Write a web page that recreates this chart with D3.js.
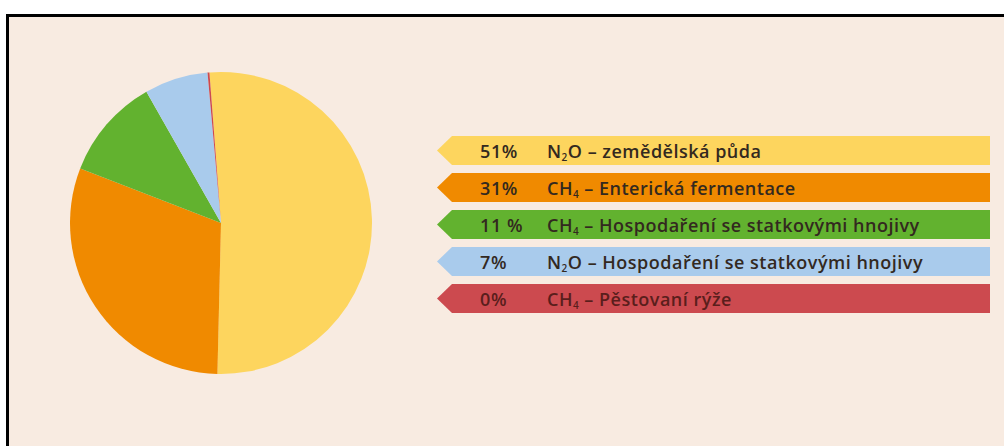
<!DOCTYPE html>
<html>
<head>
<meta charset="utf-8">
<script src="https://cdn.jsdelivr.net/npm/d3@7"></script>
<style>
  body { margin: 0; background: #fff; }
  text { font-family: "Open Sans", "Noto Sans", sans-serif; }
</style>
</head>
<body>
<script>
// shares (clockwise from just left of 12 o'clock)
const categories = ["N2O – zemědělská půda", "CH4 – Enterická fermentace",
    "CH4 – Hospodaření se statkovými hnojivy", "N2O – Hospodaření se statkovými hnojivy",
    "CH4 – Pěstovaní rýže"];
const shares = [51.6, 30.5, 10.9, 6.8, 0.2];
const percentLabels = ["51%", "31%", "11 %", "7%", "0%"];
const colors = ["#fdd55e", "#f08a00", "#62b22f", "#a9cbec", "#cc4a4f"];

let width = 1004,
    height = 446;

let svg = d3.select("body").append("svg")
    .attr("width", width)
    .attr("height", height);

// panel + black frame on top and left
svg.append("rect")
    .attr("x", 9).attr("y", 17)
    .attr("width", width - 9).attr("height", height - 17)
    .attr("fill", "#f8ebe1");
svg.append("rect")
    .attr("x", 6).attr("y", 14)
    .attr("width", width - 6).attr("height", 3)
    .attr("fill", "#000");
svg.append("rect")
    .attr("x", 6).attr("y", 14)
    .attr("width", 3).attr("height", height - 14)
    .attr("fill", "#000");

// pie
let radius = 151;
let startAngle = -4.4 / 180 * Math.PI;

let pie = d3.pie()
    .sort(null)
    .startAngle(startAngle)
    .endAngle(startAngle + 2 * Math.PI);

let arc = d3.arc()
    .innerRadius(0)
    .outerRadius(radius);

svg.append("g")
    .attr("transform", "translate(221,223)")
    .selectAll("path")
    .data(pie(shares))
    .enter().append("path")
    .attr("d", arc)
    .attr("fill", (d, i) => colors[i]);

// legend arrows
let y = d3.scaleBand()
    .domain(d3.range(categories.length))
    .range([136, 136 + 37 * categories.length - 8])
    .paddingInner(8 / 37);

let x0 = 437, xShoulder = 452, x1 = 990;

let rows = svg.append("g").selectAll(".row")
    .data(categories)
    .enter().append("g")
    .attr("class", "row")
    .attr("transform", (d, i) => "translate(0," + y(i) + ")");

let h = y.bandwidth();

rows.append("path")
    .attr("d", "M" + x0 + "," + h / 2 + "L" + xShoulder + ",0H" + x1 + "V" + h + "H" + xShoulder + "Z")
    .attr("fill", (d, i) => colors[i]);

let textColor = (d, i) => i === 4 ? "#5a1e1c" : "#33291f";

rows.append("text")
    .attr("x", 480)
    .attr("y", h / 2 + 7)
    .attr("font-size", 18)
    .attr("font-weight", 600)
    .attr("letter-spacing", 0.6)
    .attr("fill", textColor)
    .text((d, i) => percentLabels[i]);

let labels = rows.append("text")
    .attr("x", 547)
    .attr("y", h / 2 + 7)
    .attr("font-size", 18)
    .attr("font-weight", 600)
    .attr("letter-spacing", 0.5)
    .attr("fill", textColor);

// split the chemical formula so the digit becomes a subscript
labels.each(function (d) {
    let t = d3.select(this);
    let m = d.match(/^([A-Z]+)(\d)([A-Z]*)(.*)$/);
    t.append("tspan").text(m[1]);
    t.append("tspan").attr("font-size", 10).attr("dy", 3).text(m[2]);
    t.append("tspan").attr("dy", -3).text(m[3] + m[4]);
});
</script>
</body>
</html>
